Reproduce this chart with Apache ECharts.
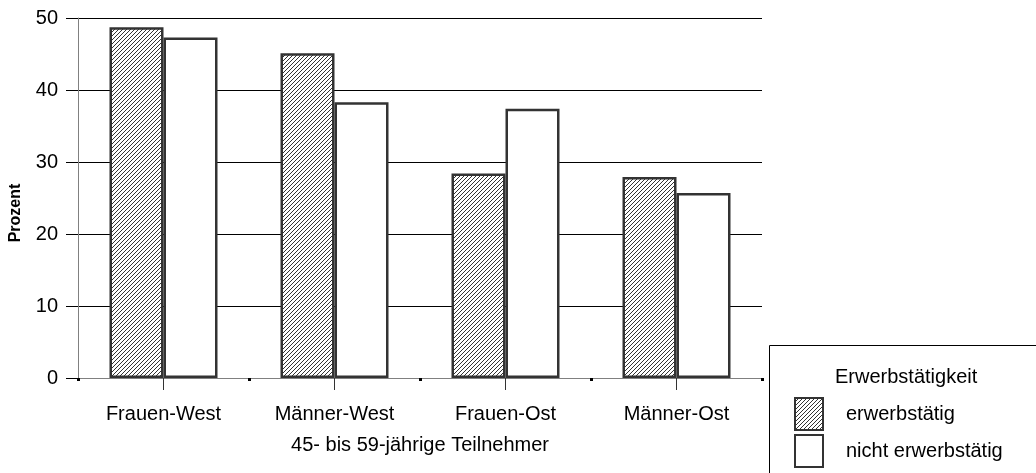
<!DOCTYPE html>
<html>
<head>
<meta charset="utf-8">
<title>Erwerbstätigkeit 45- bis 59-jährige Teilnehmer</title>
<script src="https://cdn.jsdelivr.net/npm/echarts@6/dist/echarts.min.js"></script>
<style>
  html, body { margin: 0; padding: 0; background: #fff; }
  #chart { width: 1036px; height: 473px; }
</style>
</head>
<body>
<div id="chart"></div>
<script>
// Gruppen und Anteile (Prozent)
const categories = ['Frauen-West', 'Männer-West', 'Frauen-Ost', 'Männer-Ost'];
const erwerbstaetig = [48.7, 45.1, 28.4, 27.9];
const nichtErwerbstaetig = [47.3, 38.3, 37.4, 25.7];
const seriesNames = ['erwerbstätig', 'nicht erwerbstätig'];
const legendTitle = 'Erwerbstätigkeit';
const xAxisName = '45- bis 59-jährige Teilnehmer';
const yAxisName = 'Prozent';

const FONT = "'Liberation Sans', Arial, sans-serif";

// diagonal hatch tile used for the "erwerbstätig" bars
function hatchTile() {
  const n = 4;
  const c = document.createElement('canvas');
  c.width = n; c.height = n;
  const ctx = c.getContext('2d');
  ctx.fillStyle = '#ffffff';
  ctx.fillRect(0, 0, n, n);
  ctx.fillStyle = '#333333';
  for (let i = 0; i < n; i++) ctx.fillRect(i, n - 1 - i, 1, 1);
  return c;
}

const chart = echarts.init(document.getElementById('chart'), null, { renderer: 'canvas' });

chart.setOption({
  animation: false,
  backgroundColor: '#ffffff',
  textStyle: { fontFamily: FONT },
  grid: { left: 76, right: 274, top: 18, bottom: 95, containLabel: false },
  title: {
    text: legendTitle,
    left: 830, top: 362,
    textStyle: { fontFamily: FONT, fontSize: 20, fontWeight: 'normal', color: '#000' }
  },
  legend: {
    orient: 'vertical',
    left: 794, top: 397,
    padding: 0,
    itemWidth: 28, itemHeight: 32, itemGap: 3,
    icon: 'rect',
    selectedMode: false,
    data: seriesNames,
    textStyle: { fontFamily: FONT, fontSize: 20, color: '#000', padding: [0, 0, 0, 18] }
  },
  graphic: [{
    type: 'rect',
    shape: { x: 769.5, y: 345.5, width: 300, height: 200 },
    style: { fill: null, stroke: '#000', lineWidth: 1 },
    silent: true
  }],
  xAxis: [{
    type: 'category',
    data: categories,
    position: 'bottom',
    name: xAxisName,
    nameLocation: 'middle',
    nameGap: 57,
    nameTextStyle: { fontFamily: FONT, fontSize: 20, color: '#000' },
    axisLine: { show: true, lineStyle: { color: '#808080', width: 1 } },
    axisTick: { show: true, alignWithLabel: true, length: 12, lineStyle: { color: '#333', width: 1 } },
    axisLabel: { fontFamily: FONT, fontSize: 20, color: '#000', margin: 26 },
    splitLine: { show: false }
  }, {
    // boundary tick marks between the groups
    type: 'category',
    data: categories,
    position: 'bottom',
    axisLine: { show: false },
    axisTick: { show: true, length: 3, lineStyle: { color: '#000', width: 3 } },
    axisLabel: { show: false },
    splitLine: { show: false }
  }],
  yAxis: {
    type: 'value',
    min: 0, max: 50, interval: 10,
    name: yAxisName,
    nameLocation: 'middle',
    nameRotate: 90,
    nameGap: 54,
    nameTextStyle: { fontFamily: FONT, fontSize: 16, fontWeight: 'bold', color: '#000', padding: [0, 30, 0, 0] },
    axisLine: { show: true, lineStyle: { color: '#808080', width: 1 } },
    axisTick: { show: true, length: 12, inside: false, lineStyle: { color: '#000', width: 1 } },
    axisLabel: { fontFamily: FONT, fontSize: 20, color: '#000', margin: 20 },
    splitLine: { show: true, lineStyle: { color: '#000', width: 1 } }
  },
  series: [{
    name: seriesNames[0],
    type: 'bar',
    xAxisIndex: 0,
    data: erwerbstaetig,
    barWidth: 54,
    barGap: '0%',
    itemStyle: {
      color: { image: hatchTile(), repeat: 'repeat' },
      borderColor: '#333333',
      borderWidth: 2.5
    }
  }, {
    name: seriesNames[1],
    type: 'bar',
    xAxisIndex: 0,
    data: nichtErwerbstaetig,
    barWidth: 54,
    barGap: '0%',
    itemStyle: {
      color: '#ffffff',
      borderColor: '#333333',
      borderWidth: 2.5
    }
  }]
});
</script>
</body>
</html>
